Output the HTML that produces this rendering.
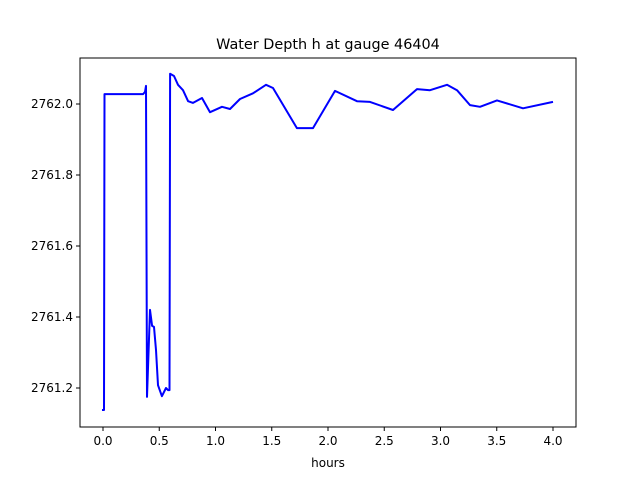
<!DOCTYPE html>
<html><head><meta charset="utf-8"><style>body{margin:0;background:#fff}svg text{font-family:"DejaVu Sans","Liberation Sans",sans-serif}</style></head>
<body>
<svg id="c" width="640" height="480"></svg>
<script>
const times=[-0.009,0.009,0.013,0.329,0.356,0.373,0.382,0.391,0.418,0.436,0.453,0.471,0.489,0.524,0.56,0.578,0.591,0.596,0.631,0.667,0.711,0.756,0.8,0.88,0.951,1.058,1.129,1.218,1.333,1.449,1.511,1.724,1.867,2.062,2.258,2.373,2.578,2.791,2.907,3.058,3.147,3.262,3.351,3.502,3.733,4.0];
const depth=[2761.138,2761.138,2762.028,2762.028,2762.028,2762.034,2762.051,2761.175,2761.420,2761.375,2761.372,2761.307,2761.208,2761.177,2761.200,2761.194,2761.194,2762.085,2762.079,2762.054,2762.039,2762.008,2762.003,2762.017,2761.977,2761.992,2761.986,2762.014,2762.030,2762.054,2762.045,2761.932,2761.932,2762.037,2762.008,2762.006,2761.983,2762.042,2762.039,2762.054,2762.039,2761.997,2761.992,2762.010,2761.988,2762.006];
const xTicks=[0.0,0.5,1.0,1.5,2.0,2.5,3.0,3.5,4.0];
const yTicks=[2761.2,2761.4,2761.6,2761.8,2762.0];
const L=80,R=576,T=58,B=427;
const X=t=>103+(t-0)*112.5;
const Y=v=>104-(v-2762.0)*355;
const svg=document.getElementById('c');const NS='http://www.w3.org/2000/svg';
function el(tag,attrs,name,text){const e=document.createElementNS(NS,tag);for(const k in attrs)e.setAttribute(k,attrs[k]);


if(text!==undefined)e.textContent=text;svg.appendChild(e);return e;}
el('text',{x:328,y:49,'text-anchor':'middle','font-size':14.4},'chart-title','Water Depth h at gauge 46404');
el('path',{d:'M'+times.map((t,i)=>X(t).toFixed(1)+','+Y(depth[i]).toFixed(1)).join('L'),fill:'none',stroke:'#0000ff','stroke-width':2,'stroke-linejoin':'round'},'depth-line');
el('rect',{x:L,y:T,width:R-L,height:B-T,fill:'none',stroke:'#000','stroke-width':1},'plot-frame');
xTicks.forEach(t=>{const x=X(t);el('line',{x1:x,x2:x,y1:B,y2:B+4,stroke:'#000'},'x-tick');
el('text',{x:x,y:B+18,'text-anchor':'middle','font-size':12},'x-tick-label',t.toFixed(1));});
yTicks.forEach(v=>{const y=Y(v);el('line',{x1:L-4,x2:L,y1:y,y2:y,stroke:'#000'},'y-tick');
el('text',{x:L-7,y:y+4,'text-anchor':'end','font-size':12},'y-tick-label',v.toFixed(1));});
el('text',{x:328,y:467,'text-anchor':'middle','font-size':12},'x-axis-title','hours');
</script>
</body></html>
